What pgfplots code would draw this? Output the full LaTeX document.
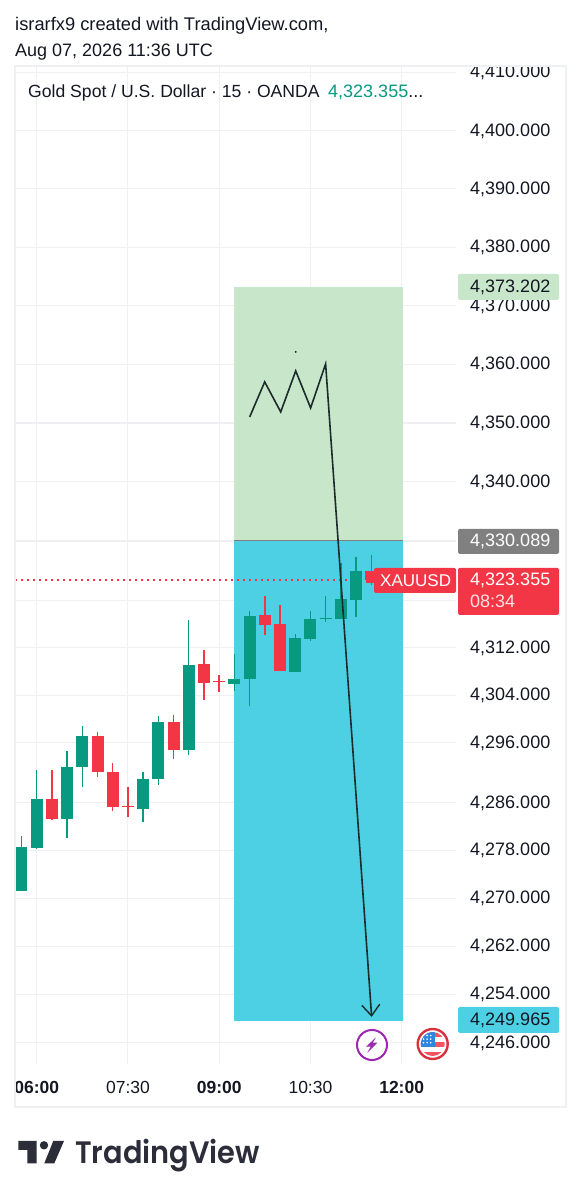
\documentclass[border=0pt]{standalone}
\usepackage{fontspec}
\usepackage{pgfplots}
\usepackage{pgfplotstable}
\pgfplotsset{compat=1.18}
\usetikzlibrary{arrows.meta}
\setmainfont{Liberation Sans}
\newfontfamily\tvfont[FakeStretch=0.93]{Poppins SemiBold}
\definecolor{up}{HTML}{089981}
\definecolor{dn}{HTML}{F23645}
\definecolor{zoneb}{HTML}{4DD0E3}
\definecolor{zoneg}{HTML}{C8E6C9}
\definecolor{gridc}{HTML}{EEF0F3}
\definecolor{ink}{HTML}{131722}
\definecolor{drawc}{HTML}{1C2B2B}
\definecolor{purp}{HTML}{9C27B0}
\definecolor{flagb}{HTML}{2E86DE}
\newcommand{\fs}[1]{\fontsize{#1}{#1}\selectfont}
\def\nanstr{nan}
% x = minutes since midnight; y = price
\pgfplotstableread{
x y
345 4280.36
345 4271.15
345 nan
360 4291.37
360 4278.23
360 nan
390 4294.62
390 4280.03
390 nan
405 4298.78
405 4288.67
405 nan
465 4291.03
465 4282.67
465 nan
480 4300.46
480 4288.89
480 nan
510 4316.63
510 4293.89
510 nan
555 4310.91
555 4304.73
555 nan
570 4318.21
570 4302.15
570 nan
615 4314.27
615 4307.98
615 nan
630 4318.20
630 4313.15
630 nan
645 4320.67
645 4316.35
645 nan
660 4326.29
660 4316.74
660 nan
675 4327.30
675 4317.08
}\upwick
\pgfplotstableread{
x y
345 4278.57
345 4271.15
345 nan
360 4286.54
360 4278.45
360 nan
390 4291.93
390 4283.17
390 nan
405 4297.09
405 4291.93
405 nan
465 4289.85
465 4284.97
465 nan
480 4299.56
480 4289.85
480 nan
510 4309.11
510 4294.85
510 nan
555 4306.75
555 4305.85
555 nan
570 4317.31
570 4306.75
570 nan
615 4313.60
615 4307.98
615 nan
630 4316.74
630 4313.49
630 nan
645 4316.91
645 4316.74
645 nan
660 4320.17
660 4316.74
660 nan
675 4324.94
675 4320.11
}\upbody
\pgfplotstableread{
x y
375 4291.37
375 4283.06
375 nan
420 4297.88
420 4290.24
420 nan
435 4292.60
435 4284.52
435 nan
450 4288.67
450 4283.62
450 nan
495 4300.63
495 4293.28
495 nan
525 4311.58
525 4303.16
525 nan
540 4307.31
540 4304.50
540 nan
585 4320.68
585 4314.16
585 nan
600 4319.16
600 4307.99
600 nan
690 4327.58
690 4322.53
}\dnwick
\pgfplotstableread{
x y
375 4286.54
375 4283.17
375 nan
420 4297.09
420 4291.03
420 nan
435 4291.03
435 4285.19
435 nan
450 4285.36
450 4285.25
450 nan
495 4299.56
495 4294.85
495 nan
525 4309.22
525 4305.97
525 nan
540 4306.30
540 4306.19
540 nan
585 4317.42
585 4315.85
585 nan
600 4315.90
600 4307.99
600 nan
690 4325.00
690 4323.355
}\dnbody
\begin{document}
\begin{tikzpicture}
\path[use as bounding box] (0pt,0pt) rectangle (582pt,1199pt);
\begin{axis}[
  at={(15pt,135pt)}, anchor=south west,
  scale only axis, width=441pt, height=998pt,
  xmin=338.6, xmax=773.6,
  % the price scale is logarithmic: second-order form of ln(p/4320) around 4320
  y coord trafo/.code={\def\tmpv{#1}\ifx\tmpv\nanstr\def\pgfmathresult{nan}\else\pgfmathparse{(#1-4320)-(#1-4320)*(#1-4320)/8640}\fi},
  ymin=4242.43, ymax=4411.10,
  axis line style={draw=none},
  tick style={draw=none},
  unbounded coords=jump,
  grid=major, grid style={gridc, line width=1.1pt},
  xtick={360,450,540,630,720},
  xticklabels={\textbf{06:00},07:30,\textbf{09:00},10:30,\textbf{12:00}},
  xticklabel style={font=\fs{17.5}, text=ink, inner sep=0pt, yshift=-17pt},
  ytick={4410,4400,4390,4380,4370,4360,4350,4340,4330,4320,4312,4304,4296,4286,4278,4270,4262,4254,4246},
  yticklabels={{4,410.000},{4,400.000},{4,390.000},{4,380.000},{4,370.000},{4,360.000},{4,350.000},{4,340.000},{},{},{4,312.000},{4,304.000},{4,296.000},{4,286.000},{4,278.000},{4,270.000},{4,262.000},{4,254.000},{4,246.000}},
  yticklabel pos=right,
  yticklabel style={font=\fs{18}, text=ink, anchor=west, inner sep=0pt, xshift=14pt, yshift=-0.5pt},
]
\addplot[draw=none, fill=zoneg, forget plot] coordinates {(554.3,4373.202)(721,4373.202)(721,4330.089)(554.3,4330.089)} -- cycle;
\addplot[draw=none, fill=zoneb, forget plot] coordinates {(554.3,4330.089)(721,4330.089)(721,4249.5)(554.3,4249.5)} -- cycle;
\addplot[color=black!50, line width=1.2pt, forget plot] coordinates {(554.3,4330.089)(721,4330.089)};
\addplot[color=dn, line width=1.6pt, dash pattern=on 1.8pt off 4.2pt, forget plot] coordinates {(338.6,4323.355)(672,4323.355)};
\addplot[up, line width=1.4pt, forget plot] table {\upwick};
\addplot[up, line width=12pt, forget plot] table {\upbody};
\addplot[dn, line width=1.4pt, forget plot] table {\dnwick};
\addplot[dn, line width=12pt, forget plot] table {\dnbody};
\addplot[drawc, line width=1.6pt, line join=miter, -{Straight Barb[length=11pt,width=18pt,line width=1.4pt]}, forget plot] coordinates {
 (570.1,4351.03)(584.9,4356.99)(600.7,4351.88)(615.5,4358.86)(630.2,4352.56)(645.0,4360.05)(690.4,4250.25)};
\addplot[only marks, mark=*, mark size=0.7pt, drawc, forget plot] coordinates {(615.5,4362.09)};
\end{axis}
\begin{scope}[x=1pt,y=-1pt,shift={(0pt,1199pt)}]
% clip the topmost tick label and the first time label, draw the pane frame
\fill[white] (456,30) rectangle (570,65.5);
\fill[white] (0,1070) rectangle (14.5,1105);
\draw[gridc, line width=1.1pt] (15,66) rectangle (566,1107);
% header
\node[anchor=base west, inner sep=0pt, text=ink, font=\fs{18.3}] at (15,31) {israrfx9 created with TradingView.com,};
\node[anchor=base west, inner sep=0pt, text=ink, font=\fs{18}] at (15,57) {Aug 07, 2026 11:36 UTC};
\node[anchor=base west, inner sep=0pt, text=ink, font=\fs{17.6}] at (28,98) {Gold Spot / U.S. Dollar · 15 · OANDA};
\node[anchor=base west, inner sep=0pt, font=\fs{18}] at (328,98) {\textcolor{up}{4,323.355}\textcolor{ink}{...}};
% price labels
\fill[zoneg, rounded corners=1.5pt] (458,274) rectangle (559,300);
\node[anchor=base west, inner sep=0pt, text=ink, font=\fs{18}] at (470,293) {4,373.202};
\fill[black!50, rounded corners=1.5pt] (458,529) rectangle (559,554);
\node[anchor=base west, inner sep=0pt, text=white, font=\fs{18}] at (470,547) {4,330.089};
\fill[dn, rounded corners=1.5pt] (458,568) rectangle (559,615);
\node[anchor=base west, inner sep=0pt, text=white, font=\fs{18}] at (470,586) {4,323.355};
\node[anchor=base west, inner sep=0pt, text=white!85!dn, font=\fs{18}] at (470,608) {08:34};
\fill[dn, rounded corners=1.5pt] (374,568) rectangle (456,593);
\fill[dn] (366,571) rectangle (376,583);
\node[anchor=base west, inner sep=0pt, text=white, font=\fs{17}] at (380,587) {XAUUSD};
\fill[zoneb, rounded corners=1.5pt] (458,1007) rectangle (559,1033);
\node[anchor=base west, inner sep=0pt, text=ink, font=\fs{18}] at (470,1026) {4,249.965};
% icons
\draw[purp, line width=2pt, fill=white] (372,1045) circle (15);
\fill[purp] (376,1037.3) -- (366,1046.7) -- (370.7,1046.7) -- (367.3,1052.7) -- (377.3,1042.7) -- (372.7,1042.7) -- cycle;
\draw[dn!90!black, line width=2.4pt, fill=white] (432.7,1044) circle (15);
\begin{scope}
\clip (432.7,1044) circle (12);
\fill[dn!85] (420,1032) rectangle (446,1037);
\fill[dn!85] (420,1042) rectangle (446,1047);
\fill[dn!85] (420,1052) rectangle (446,1057);
\fill[flagb] (420,1032) rectangle (435,1047);
\foreach \i in {0,1,2}{\foreach \j in {0,1,2}{\fill[white] (423.5+\i*3.6,1035.5+\j*3.6) circle (0.9);}}
\end{scope}
% logo
\fill[ink!90!white] (18.3,1141) -- (36.7,1141) -- (36.7,1163.3) -- (27.3,1163.3) -- (27.3,1150) -- (18.3,1150) -- cycle;
\fill[ink!90!white] (44,1145.3) circle (4.2);
\fill[ink!90!white] (53.3,1141) -- (64,1141) -- (54.3,1163.3) -- (44.3,1163.3) -- cycle;
\node[anchor=base west, inner sep=0pt, text=ink!90!white, font=\tvfont\fs{31}] at (75,1164) {TradingView};
\end{scope}
\end{tikzpicture}
\end{document}
